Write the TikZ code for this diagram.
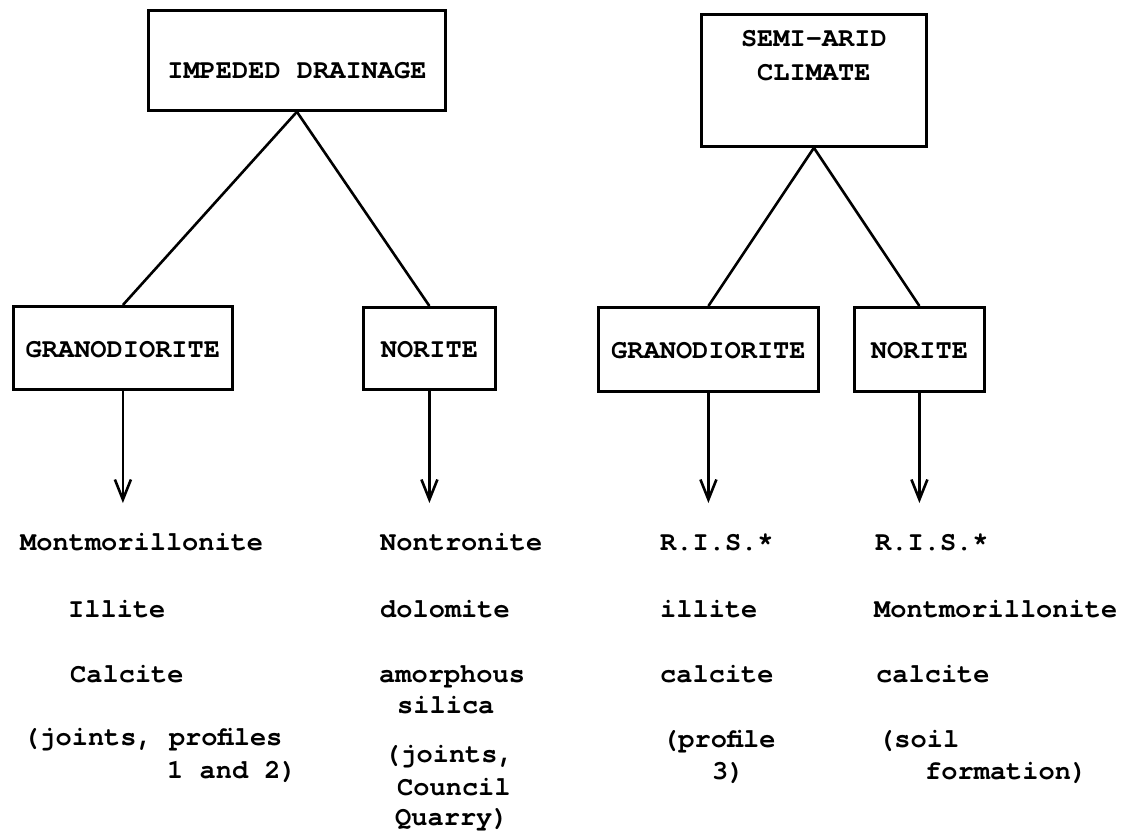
\documentclass[tikz,border=0pt]{standalone}
\usepackage{fontspec}
\setmonofont{texgyrecursor}[Extension=.otf, UprightFont=*-regular, BoldFont=*-bold]
\usetikzlibrary{arrows.meta}
\begin{document}
\begin{tikzpicture}[x=1pt,y=-1pt,
  box/.style={draw, line width=2.8pt, rectangle, inner xsep=0pt, inner ysep=0pt,
    anchor=north west, align=center, font=\ttfamily\bfseries\fontsize{27pt}{34pt}\selectfont},
  lbl/.style={anchor=base west, inner sep=0pt, font=\ttfamily\bfseries\fontsize{27pt}{33pt}\selectfont},
  link/.style={line width=2.6pt},
  arr/.style={line width=2.6pt, -{Straight Barb[length=20pt,width=16pt]}}]
\useasboundingbox[fill=white] (0,0) rectangle (1138,838);

% boxes
\node[box, minimum width=297pt, text height=68pt, text depth=32pt] (b1) at (147,9) {IMPEDED DRAINAGE};
\node[box, minimum width=225pt, text height=66pt, text depth=66pt] (b2) at (700,13) {SEMI-ARID\\CLIMATE};
\node[box, minimum width=219pt, text height=51pt, text depth=32pt] (g1) at (12,305) {GRANODIORITE};
\node[box, minimum width=132pt, text height=50pt, text depth=32pt] (n1) at (362,306) {NORITE};
\node[box, minimum width=220pt, text height=51pt, text depth=33pt] (g2) at (597,306) {GRANODIORITE};
\node[box, minimum width=130pt, text height=51pt, text depth=33pt] (n2) at (853,306) {NORITE};

% tree links
\draw[link] (b1.south) -- (g1.north);
\draw[link] (b1.south) -- (n1.north);
\draw[link] (b2.south) -- (g2.north);
\draw[link] (b2.south) -- (n2.north);

% arrows
\coordinate (t1) at (g1.south |- 0,503);
\coordinate (t2) at (n1.south |- 0,503);
\coordinate (t3) at (g2.south |- 0,503);
\coordinate (t4) at (n2.south |- 0,503);
\draw[arr] (g1.south) -- (t1);
\draw[arr] (n1.south) -- (t2);
\draw[arr] (g2.south) -- (t3);
\draw[arr] (n2.south) -- (t4);

% column 1
\node[lbl] (c1a) at (20,550) {Montmorillonite};
\node[lbl] (c1b) at (68,617) {Illite};
\node[lbl] (c1c) at (70,682) {Calcite};
\node[lbl] (c1d) at (23,745) {(joints, profiles};
\node[lbl] (c1e) at (167,778) {1 and 2)};

% column 2
\node[lbl] (c2a) at (380,550) {Nontronite};
\node[lbl] (c2b) at (380,617) {dolomite};
\node[lbl] (c2c) at (379,682) {amorphous};
\node[lbl] (c2d) at (397,713) {silica};
\node[lbl] (c2e) at (384,762) {(joints,};
\node[lbl] (c2f) at (397,795) {Council};
\node[lbl] (c2g) at (395,825) {Quarry)};

% column 3
\node[lbl] (c3a) at (660,550) {R.I.S.*};
\node[lbl] (c3b) at (660,617) {illite};
\node[lbl] (c3c) at (660,682) {calcite};
\node[lbl] (c3d) at (662,747) {(profile};
\node[lbl] (c3e) at (712,779) {3)};

% column 4
\node[lbl] (c4a) at (875,550) {R.I.S.*};
\node[lbl] (c4b) at (874,617) {Montmorillonite};
\node[lbl] (c4c) at (876,682) {calcite};
\node[lbl] (c4d) at (878,747) {(soil};
\node[lbl] (c4e) at (925,779) {formation)};
\end{tikzpicture}
\end{document}
